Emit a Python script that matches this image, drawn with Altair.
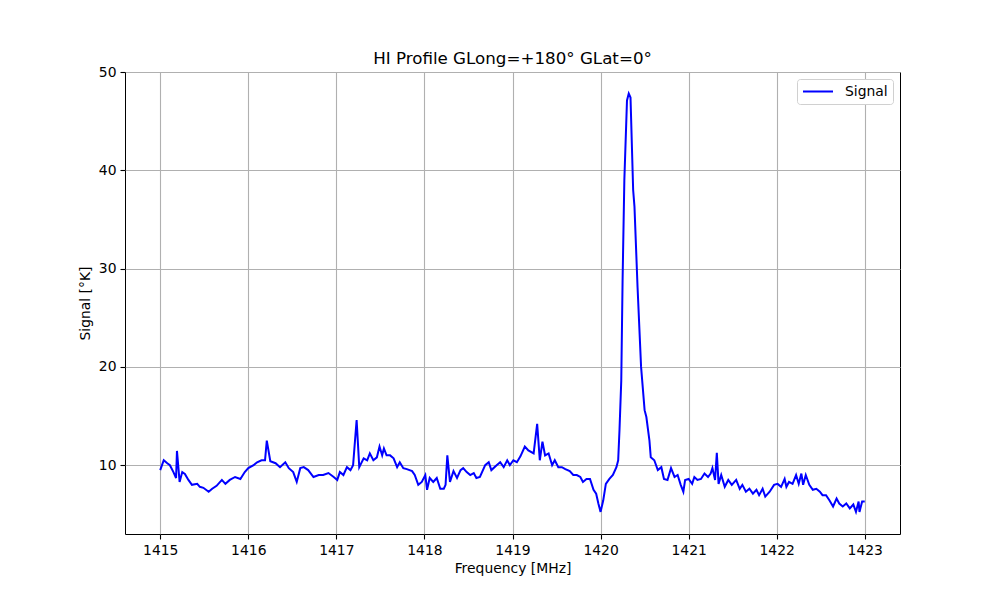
import pandas as pd
import altair as alt

# frequency (MHz) and signal (°K)
freq = [
    1415.00, 1415.04, 1415.08, 1415.11, 1415.15, 1415.18, 1415.19, 1415.22, 1415.25, 1415.28,
    1415.32, 1415.36, 1415.42, 1415.45, 1415.49, 1415.55, 1415.59, 1415.64, 1415.70, 1415.74,
    1415.79, 1415.85, 1415.91, 1415.96, 1416.00, 1416.06, 1416.10, 1416.15, 1416.19, 1416.21,
    1416.25, 1416.31, 1416.36, 1416.42, 1416.46, 1416.51, 1416.55, 1416.59, 1416.63, 1416.68,
    1416.74, 1416.80, 1416.85, 1416.91, 1416.97, 1417.01, 1417.04, 1417.08, 1417.12, 1417.16,
    1417.19, 1417.23, 1417.26, 1417.31, 1417.35, 1417.38, 1417.42, 1417.46, 1417.49, 1417.52,
    1417.54, 1417.57, 1417.61, 1417.65, 1417.69, 1417.72, 1417.76, 1417.80, 1417.86, 1417.89,
    1417.93, 1417.97, 1418.01, 1418.03, 1418.06, 1418.10, 1418.14, 1418.18, 1418.22, 1418.24,
    1418.26, 1418.29, 1418.33, 1418.37, 1418.41, 1418.44, 1418.48, 1418.52, 1418.56, 1418.59,
    1418.63, 1418.69, 1418.73, 1418.76, 1418.82, 1418.86, 1418.90, 1418.94, 1418.97, 1419.01,
    1419.05, 1419.09, 1419.14, 1419.18, 1419.24, 1419.28, 1419.31, 1419.34, 1419.37, 1419.41,
    1419.45, 1419.48, 1419.52, 1419.56, 1419.60, 1419.65, 1419.69, 1419.73, 1419.77, 1419.80,
    1419.84, 1419.88, 1419.92, 1419.95, 1419.975, 1420.00, 1420.03, 1420.06, 1420.10, 1420.14,
    1420.18, 1420.20, 1420.215, 1420.235, 1420.25, 1420.27, 1420.30, 1420.32, 1420.34, 1420.37,
    1420.385, 1420.42, 1420.46, 1420.50, 1420.52, 1420.555, 1420.57, 1420.61, 1420.65, 1420.69,
    1420.72, 1420.76, 1420.80, 1420.84, 1420.875, 1420.91, 1420.94, 1420.96, 1421.00, 1421.04,
    1421.065, 1421.10, 1421.14, 1421.18, 1421.22, 1421.25, 1421.27, 1421.30, 1421.32, 1421.34,
    1421.37, 1421.41, 1421.45, 1421.49, 1421.54, 1421.58, 1421.61, 1421.65, 1421.69, 1421.73,
    1421.77, 1421.80, 1421.84, 1421.87, 1421.92, 1421.97, 1422.01, 1422.05, 1422.09, 1422.11,
    1422.14, 1422.18, 1422.22, 1422.25, 1422.28, 1422.30, 1422.33, 1422.37, 1422.41, 1422.45,
    1422.49, 1422.52, 1422.56, 1422.60, 1422.64, 1422.68, 1422.71, 1422.75, 1422.79, 1422.83,
    1422.87, 1422.90, 1422.93, 1422.94, 1422.97, 1423.00,
]
signal = [
    9.5, 10.5, 10.2, 10.0, 9.3, 8.7, 11.45, 8.3, 9.3, 9.1,
    8.5, 8.0, 8.1, 7.8, 7.7, 7.3, 7.6, 7.9, 8.5, 8.1,
    8.5, 8.8, 8.6, 9.3, 9.7, 10.0, 10.3, 10.5, 10.5, 12.5,
    10.4, 10.2, 9.8, 10.3, 9.7, 9.3, 8.3, 9.7, 9.8, 9.5,
    8.8, 9.0, 9.0, 9.2, 8.8, 8.5, 9.3, 9.0, 9.8, 9.5,
    10.0, 14.6, 9.8, 10.7, 10.5, 11.2, 10.5, 10.8, 11.9, 11.0,
    11.7, 11.0, 11.0, 10.7, 9.8, 10.3, 9.7, 9.6, 9.4, 9.0,
    8.0, 8.3, 9.0, 7.5, 8.7, 8.3, 8.7, 7.6, 7.6, 8.0,
    11.0, 8.3, 9.4, 8.7, 9.5, 9.7, 9.3, 9.0, 9.2, 8.7,
    8.8, 10.0, 10.3, 9.5, 10.0, 10.3, 9.8, 10.5, 10.0, 10.5,
    10.3, 10.9, 11.9, 11.5, 11.2, 14.2, 10.5, 12.4, 11.0, 11.2,
    10.0, 10.5, 9.8, 9.8, 9.6, 9.4, 9.0, 9.0, 8.8, 8.3,
    8.6, 8.6, 7.5, 7.1, 6.1, 5.25, 6.4, 8.1, 8.6, 9.0,
    9.8, 10.5, 13.6, 18.6, 28.8, 39.0, 47.1, 47.8, 47.4, 38.0,
    36.3, 28.1, 20.0, 15.6, 14.9, 12.5, 10.8, 10.5, 9.5, 9.8,
    8.6, 8.5, 9.7, 8.8, 9.0, 8.0, 7.3, 8.5, 8.6, 8.1,
    8.8, 8.5, 8.6, 9.15, 8.8, 9.15, 9.7, 8.5, 11.25, 8.1,
    9.0, 7.8, 8.5, 8.0, 8.5, 7.6, 8.0, 7.3, 7.6, 7.1,
    7.5, 6.95, 7.6, 6.8, 7.3, 8.0, 8.1, 7.8, 8.6, 7.8,
    8.3, 8.1, 9.0, 8.1, 9.15, 8.0, 9.0, 8.0, 7.5, 7.6,
    7.3, 6.95, 6.95, 6.4, 5.8, 6.6, 6.1, 5.8, 6.1, 5.6,
    6.0, 5.25, 6.3, 5.25, 6.3, 6.3,
]
x_ticks = [1415, 1416, 1417, 1418, 1419, 1420, 1421, 1422, 1423]
y_ticks = [10, 20, 30, 40, 50]

df = pd.DataFrame({"freq": freq, "signal": signal, "series": "Signal"})

font = "DejaVu Sans"

chart = alt.Chart(df).mark_line(strokeWidth=2, clip=True).encode(
    x=alt.X("freq:Q", title="Frequency [MHz]",
            scale=alt.Scale(domain=[1414.6, 1423.4], nice=False, zero=False),
            axis=alt.Axis(values=x_ticks, format="d")),
    y=alt.Y("signal:Q", title="Signal [°K]",
            scale=alt.Scale(domain=[3.0, 50.0], nice=False, zero=False),
            axis=alt.Axis(values=y_ticks, format="d")),
    color=alt.Color("series:N", scale=alt.Scale(domain=["Signal"], range=["#0000ff"]),
                    legend=alt.Legend(title=None, orient="top-right", offset=7,
                                      symbolType="stroke", symbolSize=900,
                                      symbolStrokeWidth=2, labelOffset=11,
                                      clipHeight=15,
                                      labelFontSize=13.9, labelFont=font,
                                      labelColor="black", padding=5,
                                      strokeColor="#d0d0d0", cornerRadius=3,
                                      fillColor="white")),
).properties(
    width=775,
    height=462,
    title=alt.TitleParams("HI Profile GLong=+180° GLat=0°", font=font, fontSize=16.7,
                          fontWeight="normal", color="black", anchor="middle",
                          offset=8, dy=11),
    autosize=alt.AutoSizeParams(type="none"),
    padding={"left": 117, "top": 64, "right": 92, "bottom": 58},
).configure_view(
    stroke="black", strokeWidth=1
).configure_axis(
    domain=False,
    grid=True, gridColor="#b0b0b0", gridWidth=1.1,
    tickColor="black", tickSize=5, tickWidth=1.1,
    labelFont=font, labelFontSize=13.9, labelColor="black", labelPadding=4,
    titleFont=font, titleFontSize=13.9, titleFontWeight="normal", titleColor="black",
    labelFlush=False, labelOverlap=False,
).configure_axisX(
    titlePadding=5
).configure_axisY(
    titlePadding=6
)

chart.save("out.html", embed_options={"renderer": "svg", "actions": False})
